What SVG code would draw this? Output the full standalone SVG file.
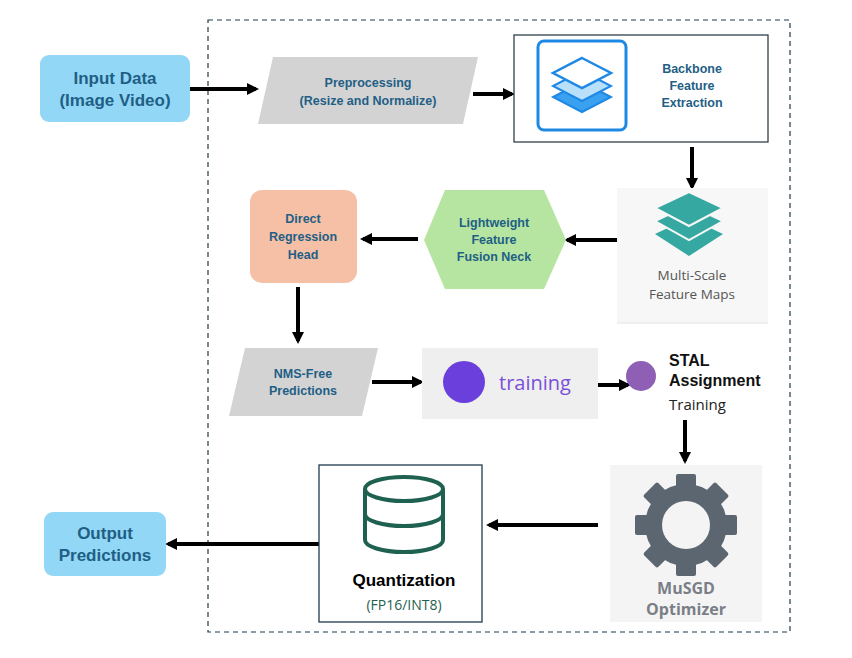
<svg xmlns="http://www.w3.org/2000/svg" width="852" height="658" viewBox="0 0 852 658">
<defs>
<marker id="ah" markerWidth="12" markerHeight="12" refX="9" refY="6" orient="auto" markerUnits="userSpaceOnUse" viewBox="0 0 12 12"><path d="M0,0 L12,6 L0,12 z" fill="#000"/></marker>
<style>
.t{font-family:"Liberation Sans",Arial,sans-serif;font-weight:bold;fill:#1f5f86;font-size:12.5px;text-anchor:middle}
.big{font-size:17px}
.c{stroke:#000;stroke-width:4;fill:none;marker-end:url(#ah)}
.g{font-family:"Open Sans","Liberation Sans",sans-serif;text-anchor:middle}
</style>
</defs>
<rect width="852" height="658" fill="#fff"/>
<rect x="208" y="20" width="582" height="612" fill="none" stroke="#1f3b4d" stroke-width="1.2" stroke-dasharray="5,4"/>

<g id="connectors">
<line class="c" x1="190" y1="89" x2="256" y2="89"/>
<line class="c" x1="473" y1="94" x2="512" y2="94"/>
<line class="c" x1="692" y1="147" x2="692" y2="187"/>
<line class="c" x1="623" y1="240" x2="567" y2="240"/>
<line class="c" x1="418" y1="239" x2="363" y2="239"/>
<line class="c" x1="298" y1="287" x2="298" y2="341"/>
<line class="c" x1="372" y1="382" x2="421" y2="382"/>
<line class="c" x1="598" y1="385" x2="628" y2="385"/>
<line class="c" x1="685" y1="420" x2="685" y2="461"/>
<line class="c" x1="598" y1="525" x2="489" y2="525"/>
<line class="c" x1="319" y1="544" x2="168" y2="544"/>
</g>

<g id="input">
<rect x="40" y="55" width="150" height="67" rx="9" fill="#92d7f5"/>
<text class="t big" x="115" y="84">Input Data</text>
<text class="t big" x="115" y="106">(Image Video)</text>
</g>

<g id="preprocessing">
<polygon points="273,57 478,57 463,124 258,124" fill="#d3d3d3"/>
<text class="t" x="368" y="87">Preprocessing</text>
<text class="t" x="368" y="105">(Resize and Normalize)</text>
</g>

<g id="backbone">
<rect x="514" y="35" width="254" height="107" fill="#fff" stroke="#2f3f4a" stroke-width="1.3"/>
<rect x="538" y="41" width="88" height="89" rx="6" fill="#fff" stroke="#1e88e5" stroke-width="3"/>
<polygon points="582,82 611,97 582,112 553,97" fill="#3aa0f0" stroke="#1e88e5" stroke-width="2"/>
<polygon points="582,71 611,86 582,101 553,86" fill="#b8e0fa" stroke="#1e88e5" stroke-width="2"/>
<polygon points="582,58 611,73 582,88 553,73" fill="#fff" stroke="#1e88e5" stroke-width="2.5"/>
<text class="t" x="692" y="73">Backbone</text>
<text class="t" x="692" y="90">Feature</text>
<text class="t" x="692" y="107">Extraction</text>
</g>

<g id="multiscale">
<rect x="617" y="188" width="151" height="135" fill="#f7f7f7"/>
<line x1="617" y1="323" x2="768" y2="323" stroke="#e2e2e2"/>
<polygon points="689,218 723,234 689,256 655,234" fill="#36a8a2"/>
<polygon points="689,205 723,221 689,240 655,221" fill="#36a8a2" stroke="#f7f7f7" stroke-width="2"/>
<polygon points="689,192 723,208 689,226 655,208" fill="#36a8a2" stroke="#f7f7f7" stroke-width="2"/>
<text class="g" x="692" y="280" font-size="13.5" fill="#555">Multi-Scale</text>
<text class="g" x="692" y="299" font-size="13.5" fill="#555">Feature Maps</text>
</g>

<g id="neck">
<polygon points="424,240 445,190 544,190 566,240 544,289 445,289" fill="#b5e5a0"/>
<text class="t" x="494" y="227">Lightweight</text>
<text class="t" x="494" y="244">Feature</text>
<text class="t" x="494" y="261">Fusion Neck</text>
</g>

<g id="head">
<rect x="250" y="190" width="107" height="93" rx="12" fill="#f5c0a5"/>
<text class="t" x="303" y="223">Direct</text>
<text class="t" x="303" y="241">Regression</text>
<text class="t" x="303" y="259">Head</text>
</g>

<g id="nms">
<polygon points="245,348 378,348 362,416 229,416" fill="#d3d3d3"/>
<text class="t" x="303" y="378">NMS-Free</text>
<text class="t" x="303" y="395">Predictions</text>
</g>

<g id="training">
<rect x="422" y="348" width="176" height="71" fill="#efefef"/>
<circle cx="464" cy="382" r="21" fill="#6a3fdb"/>
<text class="g" x="535" y="390" font-size="20" fill="#7a4fd9">training</text>
</g>

<g id="stal">
<circle cx="641" cy="376" r="15" fill="#8e5fb5"/>
<text x="669" y="366" font-family="Liberation Sans,sans-serif" font-weight="bold" font-size="16" fill="#111">STAL</text>
<text x="669" y="386" font-family="Liberation Sans,sans-serif" font-weight="bold" font-size="16" fill="#111">Assignment</text>
<text x="669" y="410" font-family="Open Sans,Liberation Sans,sans-serif" font-size="15" fill="#222">Training</text>
</g>

<g id="musgd">
<rect x="610" y="465" width="152" height="157" fill="#f4f4f5"/>
<g transform="translate(686,525)" fill="#5b6670">
<circle r="41"/>
<rect x="-10" y="-51" width="20" height="20" rx="2"/>
<rect x="-10" y="-51" width="20" height="20" rx="2" transform="rotate(45)"/>
<rect x="-10" y="-51" width="20" height="20" rx="2" transform="rotate(90)"/>
<rect x="-10" y="-51" width="20" height="20" rx="2" transform="rotate(135)"/>
<rect x="-10" y="-51" width="20" height="20" rx="2" transform="rotate(180)"/>
<rect x="-10" y="-51" width="20" height="20" rx="2" transform="rotate(225)"/>
<rect x="-10" y="-51" width="20" height="20" rx="2" transform="rotate(270)"/>
<rect x="-10" y="-51" width="20" height="20" rx="2" transform="rotate(315)"/>
<circle r="24" fill="#f4f4f5"/>
</g>
<text class="g" x="686" y="594" font-size="16" font-weight="bold" fill="#7a7f86">MuSGD</text>
<text class="g" x="686" y="615" font-size="16" font-weight="bold" fill="#7a7f86">Optimizer</text>
</g>

<g id="quantization">
<rect x="319" y="465" width="163" height="157" fill="#fff" stroke="#1f3b4d" stroke-width="1.3"/>
<g fill="none" stroke="#1f6150" stroke-width="4">
<ellipse cx="404" cy="489" rx="39" ry="12"/>
<path d="M365,489 V540 A39,12 0 0 0 443,540 V489"/>
<path d="M365,514 A39,12 0 0 0 443,514"/>
</g>
<text x="404" y="586" font-family="Liberation Sans,sans-serif" font-weight="bold" font-size="17" fill="#000" text-anchor="middle">Quantization</text>
<text class="g" x="404" y="610" font-size="14" fill="#1f6150">(FP16/INT8)</text>
</g>

<g id="output">
<rect x="44" y="512" width="122" height="64" rx="9" fill="#92d7f5"/>
<text class="t big" x="105" y="539">Output</text>
<text class="t big" x="105" y="561">Predictions</text>
</g>
</svg>
